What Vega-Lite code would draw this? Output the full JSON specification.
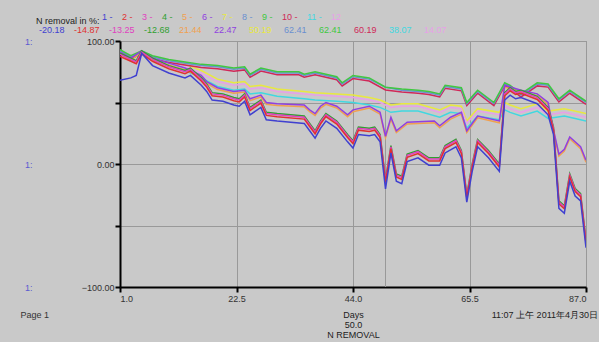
{
"$schema": "https://vega.github.io/schema/vega-lite/v6.json",
"width": 466, "height": 246,
"autosize": {"type": "none"},
"padding": {"left": 120, "top": 41, "right": 13, "bottom": 55},
"background": "#c9c9c9",
"title": {"text": "11:07 上午  2011年4月30日", "orient": "bottom", "anchor": "end", "frame": "group", "fontSize": 9, "fontWeight": "normal", "color": "#222", "offset": -28, "dx": 12},
"config": {"font": "Liberation Sans", "view": {"stroke": "#8c8c8c", "strokeWidth": 1}},
"encoding": {
  "x": {"field": "d", "type": "quantitative", "scale": {"domain": [1, 87], "nice": false, "zero": false},
    "axis": {"values": [1, 22.5, 44, 65.5, 87], "format": ".1f", "title": ["Days", "50.0", "N REMOVAL"], "grid": true, "gridColor": "#999", "gridWidth": 1,
      "domainColor": "#000", "domainWidth": 2, "tickColor": "#000", "tickWidth": 2, "tickSize": 5, "labelFontSize": 9, "labelColor": "#333", "labelPadding": 2,
      "titleFontSize": 9, "titleFontWeight": "normal", "titleColor": "#222", "titlePadding": 7, "titleLineHeight": 10}}
},
"layer": [
  {
    "data": {"values": [{"d": 50}]},
    "mark": {"type": "rule", "color": "#999", "strokeWidth": 1},
    "encoding": {
      "y": {"datum": -100, "type": "quantitative", "scale": {"domain": [-100, 100], "nice": false},
        "axis": {"orient": "left", "offset": 84, "values": [-100, 0, 100], "labelExpr": "'1:'", "domain": false, "ticks": false, "grid": false, "labelColor": "#5a5ad0", "labelFontSize": 9, "labelPadding": 4,
          "title": "Page 1", "titleAngle": 0, "titleAlign": "left", "titleBaseline": "middle", "titleX": -16, "titleY": 273, "titleFontSize": 9, "titleFontWeight": "normal", "titleColor": "#333"}},
      "y2": {"datum": 100}
    }
  },
  {
    "data": {"values": [
{"d":1,"s":7,"v":91},{"d":3,"s":7,"v":88},{"d":5,"s":7,"v":91},{"d":7,"s":7,"v":87},{"d":10,"s":7,"v":84},{"d":13,"s":7,"v":81},{"d":16,"s":7,"v":76},{"d":19,"s":7,"v":69},{"d":22,"s":7,"v":66},{"d":24,"s":7,"v":67},{"d":25,"s":7,"v":63},{"d":27,"s":7,"v":64},{"d":30,"s":7,"v":61},{"d":35,"s":7,"v":59},{"d":37,"s":7,"v":58},{"d":41,"s":7,"v":57},{"d":44,"s":7,"v":56},{"d":47,"s":7,"v":54},{"d":49,"s":7,"v":52},{"d":51,"s":7,"v":48},{"d":53,"s":7,"v":49},{"d":56,"s":7,"v":49},{"d":60,"s":7,"v":44},{"d":62,"s":7,"v":48},{"d":64,"s":7,"v":47},{"d":65,"s":7,"v":35},{"d":67,"s":7,"v":45},{"d":71,"s":7,"v":42},{"d":72,"s":7,"v":50},{"d":73,"s":7,"v":48},{"d":75,"s":7,"v":45},{"d":78,"s":7,"v":49},{"d":80,"s":7,"v":43},{"d":83,"s":7,"v":45},{"d":87,"s":7,"v":41},
{"d":1,"s":12,"v":92},{"d":3,"s":12,"v":88},{"d":5,"s":12,"v":92},{"d":7,"s":12,"v":87},{"d":10,"s":12,"v":84},{"d":13,"s":12,"v":80},{"d":16,"s":12,"v":74},{"d":19,"s":12,"v":67},{"d":22,"s":12,"v":64},{"d":24,"s":12,"v":65},{"d":25,"s":12,"v":61},{"d":27,"s":12,"v":62},{"d":30,"s":12,"v":59},{"d":35,"s":12,"v":57},{"d":37,"s":12,"v":56},{"d":41,"s":12,"v":55},{"d":44,"s":12,"v":54},{"d":47,"s":12,"v":52},{"d":49,"s":12,"v":50},{"d":51,"s":12,"v":46},{"d":53,"s":12,"v":47},{"d":56,"s":12,"v":47},{"d":60,"s":12,"v":42},{"d":62,"s":12,"v":46},{"d":64,"s":12,"v":45},{"d":65,"s":12,"v":33},{"d":67,"s":12,"v":43},{"d":71,"s":12,"v":40},{"d":72,"s":12,"v":47},{"d":73,"s":12,"v":45},{"d":75,"s":12,"v":42},{"d":78,"s":12,"v":46},{"d":80,"s":12,"v":40},{"d":83,"s":12,"v":42},{"d":87,"s":12,"v":38},
{"d":1,"s":11,"v":90},{"d":3,"s":11,"v":85},{"d":5,"s":11,"v":90},{"d":7,"s":11,"v":84},{"d":10,"s":11,"v":80},{"d":13,"s":11,"v":76},{"d":16,"s":11,"v":70},{"d":19,"s":11,"v":63},{"d":22,"s":11,"v":60},{"d":24,"s":11,"v":61},{"d":25,"s":11,"v":57},{"d":27,"s":11,"v":58},{"d":30,"s":11,"v":55},{"d":35,"s":11,"v":53},{"d":37,"s":11,"v":52},{"d":41,"s":11,"v":51},{"d":44,"s":11,"v":50},{"d":47,"s":11,"v":48},{"d":49,"s":11,"v":46},{"d":51,"s":11,"v":42},{"d":53,"s":11,"v":43},{"d":56,"s":11,"v":43},{"d":60,"s":11,"v":38},{"d":62,"s":11,"v":42},{"d":64,"s":11,"v":41},{"d":65,"s":11,"v":29},{"d":67,"s":11,"v":39},{"d":71,"s":11,"v":36},{"d":72,"s":11,"v":44},{"d":73,"s":11,"v":42},{"d":75,"s":11,"v":39},{"d":78,"s":11,"v":43},{"d":80,"s":11,"v":37},{"d":83,"s":11,"v":39},{"d":87,"s":11,"v":35},
{"d":1,"s":10,"v":90.5},{"d":3,"s":10,"v":85.5},{"d":5,"s":10,"v":89.5},{"d":7,"s":10,"v":85.5},{"d":10,"s":10,"v":82.5},{"d":13,"s":10,"v":80.5},{"d":16,"s":10,"v":78.5},{"d":19,"s":10,"v":77.5},{"d":22,"s":10,"v":75.5},{"d":24,"s":10,"v":76.5},{"d":25,"s":10,"v":70.5},{"d":27,"s":10,"v":75.5},{"d":30,"s":10,"v":72.5},{"d":34,"s":10,"v":72.5},{"d":35,"s":10,"v":70.5},{"d":37,"s":10,"v":72.5},{"d":41,"s":10,"v":68.5},{"d":42,"s":10,"v":63.5},{"d":44,"s":10,"v":69.5},{"d":47,"s":10,"v":67.5},{"d":50,"s":10,"v":60.2},{"d":53,"s":10,"v":58.5},{"d":56,"s":10,"v":57.5},{"d":58,"s":10,"v":56.5},{"d":60,"s":10,"v":54.5},{"d":61,"s":10,"v":61.5},{"d":64,"s":10,"v":59.5},{"d":65,"s":10,"v":47.5},{"d":67,"s":10,"v":57.5},{"d":70,"s":10,"v":47.5},{"d":72,"s":10,"v":63.5},{"d":73,"s":10,"v":61.5},{"d":75,"s":10,"v":54.5},{"d":78,"s":10,"v":63.5},{"d":80,"s":10,"v":62.5},{"d":82,"s":10,"v":50.5},{"d":84,"s":10,"v":57.5},{"d":87,"s":10,"v":48.5},
{"d":1,"s":8,"v":92},{"d":3,"s":8,"v":87},{"d":5,"s":8,"v":91},{"d":7,"s":8,"v":87},{"d":10,"s":8,"v":84},{"d":13,"s":8,"v":82},{"d":16,"s":8,"v":80},{"d":19,"s":8,"v":79},{"d":22,"s":8,"v":77},{"d":24,"s":8,"v":78},{"d":25,"s":8,"v":72},{"d":27,"s":8,"v":77},{"d":30,"s":8,"v":74},{"d":34,"s":8,"v":74},{"d":35,"s":8,"v":72},{"d":37,"s":8,"v":74},{"d":41,"s":8,"v":70},{"d":42,"s":8,"v":65},{"d":44,"s":8,"v":71},{"d":47,"s":8,"v":69},{"d":50,"s":8,"v":62.4},{"d":53,"s":8,"v":60},{"d":56,"s":8,"v":59},{"d":58,"s":8,"v":58},{"d":60,"s":8,"v":56},{"d":61,"s":8,"v":63},{"d":64,"s":8,"v":61},{"d":65,"s":8,"v":49},{"d":67,"s":8,"v":59},{"d":70,"s":8,"v":49},{"d":72,"s":8,"v":65},{"d":73,"s":8,"v":63},{"d":75,"s":8,"v":56},{"d":78,"s":8,"v":65},{"d":80,"s":8,"v":64},{"d":82,"s":8,"v":52},{"d":84,"s":8,"v":59},{"d":87,"s":8,"v":50},
{"d":1,"s":9,"v":93},{"d":3,"s":9,"v":88},{"d":5,"s":9,"v":92},{"d":7,"s":9,"v":88},{"d":10,"s":9,"v":85},{"d":13,"s":9,"v":83},{"d":16,"s":9,"v":81},{"d":19,"s":9,"v":80},{"d":22,"s":9,"v":78},{"d":24,"s":9,"v":79},{"d":25,"s":9,"v":73},{"d":27,"s":9,"v":78},{"d":30,"s":9,"v":75},{"d":34,"s":9,"v":75},{"d":35,"s":9,"v":73},{"d":37,"s":9,"v":75},{"d":41,"s":9,"v":71},{"d":42,"s":9,"v":66},{"d":44,"s":9,"v":72},{"d":47,"s":9,"v":70},{"d":50,"s":9,"v":62.4},{"d":53,"s":9,"v":61},{"d":56,"s":9,"v":60},{"d":58,"s":9,"v":59},{"d":60,"s":9,"v":57},{"d":61,"s":9,"v":64},{"d":64,"s":9,"v":62},{"d":65,"s":9,"v":50},{"d":67,"s":9,"v":60},{"d":70,"s":9,"v":50},{"d":72,"s":9,"v":66},{"d":73,"s":9,"v":64},{"d":75,"s":9,"v":57},{"d":78,"s":9,"v":66},{"d":80,"s":9,"v":65},{"d":82,"s":9,"v":53},{"d":84,"s":9,"v":60},{"d":87,"s":9,"v":51},
{"d":1,"s":5,"v":89.5},{"d":3,"s":5,"v":84.5},{"d":5,"s":5,"v":90.5},{"d":7,"s":5,"v":84.5},{"d":10,"s":5,"v":80.5},{"d":13,"s":5,"v":76.5},{"d":16,"s":5,"v":70.5},{"d":17,"s":5,"v":65.5},{"d":19,"s":5,"v":60.5},{"d":22,"s":5,"v":57.5},{"d":24,"s":5,"v":58.5},{"d":25,"s":5,"v":51.5},{"d":27,"s":5,"v":54.5},{"d":28,"s":5,"v":48.5},{"d":30,"s":5,"v":47.5},{"d":35,"s":5,"v":46.5},{"d":36,"s":5,"v":42.5},{"d":37,"s":5,"v":39.5},{"d":38,"s":5,"v":45.5},{"d":39,"s":5,"v":48.5},{"d":41,"s":5,"v":45.5},{"d":43,"s":5,"v":38.5},{"d":44,"s":5,"v":42.5},{"d":47,"s":5,"v":45.5},{"d":49,"s":5,"v":40.5},{"d":50,"s":5,"v":21.4},{"d":51,"s":5,"v":36.5},{"d":52,"s":5,"v":25.5},{"d":54,"s":5,"v":32.5},{"d":59,"s":5,"v":33.5},{"d":60,"s":5,"v":29.5},{"d":62,"s":5,"v":36.5},{"d":64,"s":5,"v":40.5},{"d":65,"s":5,"v":25.5},{"d":67,"s":5,"v":37.5},{"d":71,"s":5,"v":33.5},{"d":72,"s":5,"v":62.5},{"d":75,"s":5,"v":58.5},{"d":78,"s":5,"v":55.5},{"d":80,"s":5,"v":48.5},{"d":81,"s":5,"v":26.5},{"d":82,"s":5,"v":6.5},{"d":83,"s":5,"v":10.5},{"d":84,"s":5,"v":20.5},{"d":86,"s":5,"v":12.5},{"d":87,"s":5,"v":1.5},
{"d":1,"s":6,"v":91},{"d":3,"s":6,"v":86},{"d":5,"s":6,"v":92},{"d":7,"s":6,"v":86},{"d":10,"s":6,"v":82},{"d":13,"s":6,"v":78},{"d":16,"s":6,"v":72},{"d":17,"s":6,"v":67},{"d":19,"s":6,"v":62},{"d":22,"s":6,"v":59},{"d":24,"s":6,"v":60},{"d":25,"s":6,"v":53},{"d":27,"s":6,"v":56},{"d":28,"s":6,"v":50},{"d":30,"s":6,"v":49},{"d":35,"s":6,"v":48},{"d":36,"s":6,"v":44},{"d":37,"s":6,"v":41},{"d":38,"s":6,"v":47},{"d":39,"s":6,"v":50},{"d":41,"s":6,"v":47},{"d":43,"s":6,"v":40},{"d":44,"s":6,"v":44},{"d":47,"s":6,"v":47},{"d":49,"s":6,"v":42},{"d":50,"s":6,"v":22.5},{"d":51,"s":6,"v":38},{"d":52,"s":6,"v":27},{"d":54,"s":6,"v":34},{"d":59,"s":6,"v":35},{"d":60,"s":6,"v":31},{"d":62,"s":6,"v":38},{"d":64,"s":6,"v":42},{"d":65,"s":6,"v":27},{"d":67,"s":6,"v":39},{"d":71,"s":6,"v":35},{"d":72,"s":6,"v":64},{"d":75,"s":6,"v":60},{"d":78,"s":6,"v":57},{"d":80,"s":6,"v":50},{"d":81,"s":6,"v":28},{"d":82,"s":6,"v":8},{"d":83,"s":6,"v":12},{"d":84,"s":6,"v":22},{"d":86,"s":6,"v":14},{"d":87,"s":6,"v":3},
{"d":1,"s":4,"v":90},{"d":3,"s":4,"v":86},{"d":4,"s":4,"v":84},{"d":5,"s":4,"v":92},{"d":7,"s":4,"v":86},{"d":10,"s":4,"v":80},{"d":13,"s":4,"v":76},{"d":14,"s":4,"v":78},{"d":16,"s":4,"v":70},{"d":17,"s":4,"v":65},{"d":18,"s":4,"v":58},{"d":20,"s":4,"v":57},{"d":22,"s":4,"v":54},{"d":23,"s":4,"v":53},{"d":24,"s":4,"v":57},{"d":25,"s":4,"v":46},{"d":27,"s":4,"v":52},{"d":28,"s":4,"v":42},{"d":30,"s":4,"v":41},{"d":35,"s":4,"v":39},{"d":36,"s":4,"v":33},{"d":37,"s":4,"v":27},{"d":38,"s":4,"v":35},{"d":39,"s":4,"v":41},{"d":41,"s":4,"v":35},{"d":43,"s":4,"v":24},{"d":44,"s":4,"v":19},{"d":45,"s":4,"v":30},{"d":47,"s":4,"v":29},{"d":48,"s":4,"v":30},{"d":49,"s":4,"v":24},{"d":50,"s":4,"v":-12.68},{"d":51,"s":4,"v":15},{"d":52,"s":4,"v":-8},{"d":53,"s":4,"v":-10},{"d":54,"s":4,"v":8},{"d":56,"s":4,"v":11},{"d":58,"s":4,"v":5},{"d":60,"s":4,"v":5},{"d":61,"s":4,"v":15},{"d":63,"s":4,"v":20},{"d":64,"s":4,"v":11},{"d":65,"s":4,"v":-25},{"d":66,"s":4,"v":0},{"d":67,"s":4,"v":20},{"d":69,"s":4,"v":11},{"d":71,"s":4,"v":0},{"d":72,"s":4,"v":58},{"d":73,"s":4,"v":62},{"d":74,"s":4,"v":59},{"d":75,"s":4,"v":60},{"d":78,"s":4,"v":55},{"d":80,"s":4,"v":46},{"d":81,"s":4,"v":30},{"d":82,"s":4,"v":-30},{"d":83,"s":4,"v":-34},{"d":84,"s":4,"v":-8},{"d":85,"s":4,"v":-20},{"d":86,"s":4,"v":-24},{"d":87,"s":4,"v":-62},
{"d":1,"s":3,"v":89},{"d":3,"s":3,"v":85},{"d":4,"s":3,"v":83},{"d":5,"s":3,"v":91},{"d":7,"s":3,"v":85},{"d":10,"s":3,"v":79},{"d":13,"s":3,"v":75},{"d":14,"s":3,"v":77},{"d":16,"s":3,"v":69},{"d":17,"s":3,"v":64},{"d":18,"s":3,"v":57},{"d":20,"s":3,"v":56},{"d":22,"s":3,"v":53},{"d":23,"s":3,"v":52},{"d":24,"s":3,"v":56},{"d":25,"s":3,"v":45},{"d":27,"s":3,"v":51},{"d":28,"s":3,"v":41},{"d":30,"s":3,"v":40},{"d":35,"s":3,"v":38},{"d":36,"s":3,"v":32},{"d":37,"s":3,"v":26},{"d":38,"s":3,"v":34},{"d":39,"s":3,"v":40},{"d":41,"s":3,"v":34},{"d":43,"s":3,"v":23},{"d":44,"s":3,"v":18},{"d":45,"s":3,"v":29},{"d":47,"s":3,"v":28},{"d":48,"s":3,"v":29},{"d":49,"s":3,"v":23},{"d":50,"s":3,"v":-13.25},{"d":51,"s":3,"v":14},{"d":52,"s":3,"v":-9},{"d":53,"s":3,"v":-11},{"d":54,"s":3,"v":7},{"d":56,"s":3,"v":10},{"d":58,"s":3,"v":4},{"d":60,"s":3,"v":4},{"d":61,"s":3,"v":14},{"d":63,"s":3,"v":19},{"d":64,"s":3,"v":10},{"d":65,"s":3,"v":-26},{"d":66,"s":3,"v":-1},{"d":67,"s":3,"v":19},{"d":69,"s":3,"v":10},{"d":71,"s":3,"v":-1},{"d":72,"s":3,"v":57},{"d":73,"s":3,"v":61},{"d":74,"s":3,"v":58},{"d":75,"s":3,"v":59},{"d":78,"s":3,"v":54},{"d":80,"s":3,"v":45},{"d":81,"s":3,"v":29},{"d":82,"s":3,"v":-31},{"d":83,"s":3,"v":-35},{"d":84,"s":3,"v":-9},{"d":85,"s":3,"v":-21},{"d":86,"s":3,"v":-25},{"d":87,"s":3,"v":-63},
{"d":1,"s":2,"v":87.5},{"d":3,"s":2,"v":83.5},{"d":4,"s":2,"v":81.5},{"d":5,"s":2,"v":89.5},{"d":7,"s":2,"v":83.5},{"d":10,"s":2,"v":77.5},{"d":13,"s":2,"v":73.5},{"d":14,"s":2,"v":75.5},{"d":16,"s":2,"v":67.5},{"d":17,"s":2,"v":62.5},{"d":18,"s":2,"v":55.5},{"d":20,"s":2,"v":54.5},{"d":22,"s":2,"v":51.5},{"d":23,"s":2,"v":50.5},{"d":24,"s":2,"v":54.5},{"d":25,"s":2,"v":43.5},{"d":27,"s":2,"v":49.5},{"d":28,"s":2,"v":39.5},{"d":30,"s":2,"v":38.5},{"d":35,"s":2,"v":36.5},{"d":36,"s":2,"v":30.5},{"d":37,"s":2,"v":24.5},{"d":38,"s":2,"v":32.5},{"d":39,"s":2,"v":38.5},{"d":41,"s":2,"v":32.5},{"d":43,"s":2,"v":21.5},{"d":44,"s":2,"v":16.5},{"d":45,"s":2,"v":27.5},{"d":47,"s":2,"v":26.5},{"d":48,"s":2,"v":27.5},{"d":49,"s":2,"v":21.5},{"d":50,"s":2,"v":-14.87},{"d":51,"s":2,"v":12.5},{"d":52,"s":2,"v":-10.5},{"d":53,"s":2,"v":-12.5},{"d":54,"s":2,"v":5.5},{"d":56,"s":2,"v":8.5},{"d":58,"s":2,"v":2.5},{"d":60,"s":2,"v":2.5},{"d":61,"s":2,"v":12.5},{"d":63,"s":2,"v":17.5},{"d":64,"s":2,"v":8.5},{"d":65,"s":2,"v":-27.5},{"d":66,"s":2,"v":-2.5},{"d":67,"s":2,"v":17.5},{"d":69,"s":2,"v":8.5},{"d":71,"s":2,"v":-2.5},{"d":72,"s":2,"v":55.5},{"d":73,"s":2,"v":59.5},{"d":74,"s":2,"v":56.5},{"d":75,"s":2,"v":57.5},{"d":78,"s":2,"v":52.5},{"d":80,"s":2,"v":43.5},{"d":81,"s":2,"v":27.5},{"d":82,"s":2,"v":-32.5},{"d":83,"s":2,"v":-36.5},{"d":84,"s":2,"v":-10.5},{"d":85,"s":2,"v":-22.5},{"d":86,"s":2,"v":-26.5},{"d":87,"s":2,"v":-64.5},
{"d":1,"s":1,"v":68},{"d":3,"s":1,"v":70},{"d":4,"s":1,"v":72},{"d":5,"s":1,"v":90},{"d":7,"s":1,"v":80},{"d":10,"s":1,"v":74},{"d":13,"s":1,"v":70},{"d":14,"s":1,"v":72},{"d":16,"s":1,"v":64},{"d":17,"s":1,"v":59},{"d":18,"s":1,"v":52},{"d":20,"s":1,"v":51},{"d":22,"s":1,"v":48},{"d":23,"s":1,"v":47},{"d":24,"s":1,"v":51},{"d":25,"s":1,"v":40},{"d":27,"s":1,"v":46},{"d":28,"s":1,"v":36},{"d":30,"s":1,"v":35},{"d":35,"s":1,"v":33},{"d":36,"s":1,"v":27},{"d":37,"s":1,"v":21},{"d":38,"s":1,"v":29},{"d":39,"s":1,"v":35},{"d":41,"s":1,"v":29},{"d":43,"s":1,"v":18},{"d":44,"s":1,"v":13},{"d":45,"s":1,"v":24},{"d":47,"s":1,"v":23},{"d":48,"s":1,"v":24},{"d":49,"s":1,"v":18},{"d":50,"s":1,"v":-20.18},{"d":51,"s":1,"v":9},{"d":52,"s":1,"v":-14},{"d":53,"s":1,"v":-16},{"d":54,"s":1,"v":2},{"d":56,"s":1,"v":5},{"d":58,"s":1,"v":-1},{"d":60,"s":1,"v":-1},{"d":61,"s":1,"v":9},{"d":63,"s":1,"v":14},{"d":64,"s":1,"v":5},{"d":65,"s":1,"v":-31},{"d":66,"s":1,"v":-6},{"d":67,"s":1,"v":14},{"d":69,"s":1,"v":5},{"d":71,"s":1,"v":-6},{"d":72,"s":1,"v":52},{"d":73,"s":1,"v":56},{"d":74,"s":1,"v":53},{"d":75,"s":1,"v":54},{"d":78,"s":1,"v":49},{"d":80,"s":1,"v":40},{"d":81,"s":1,"v":24},{"d":82,"s":1,"v":-36},{"d":83,"s":1,"v":-40},{"d":84,"s":1,"v":-14},{"d":85,"s":1,"v":-26},{"d":86,"s":1,"v":-30},{"d":87,"s":1,"v":-68}
    ]},
    "mark": {"type": "line", "strokeWidth": 1.5, "clip": true},
    "encoding": {
      "y": {"field": "v", "type": "quantitative", "scale": {"domain": [-100, 100], "nice": false},
        "axis": {"orient": "left", "values": [-100, -50, 0, 50, 100], "labelExpr": "datum.value % 100 == 0 ? format(datum.value, '.2f') : ''", "title": null, "grid": true, "gridColor": "#999", "gridWidth": 1,
          "domainColor": "#000", "domainWidth": 2, "tickColor": "#000", "tickWidth": 2, "tickSize": 5, "labelFontSize": 9, "labelColor": "#333", "labelPadding": 1}},
      "color": {"field": "s", "type": "ordinal",
        "scale": {"domain": [1,2,3,4,5,6,7,8,9,10,11,12], "range": ["#4040d0","#e03030","#e040c0","#30a030","#f0a050","#9040e0","#e8e840","#6a8fd0","#40c840","#d02858","#40d8e0","#e8a0e8"]},
        "legend": {"orient": "none", "legendX": -84, "legendY": -29, "direction": "horizontal", "columns": 12, "title": "N removal in %:", "titleOrient": "left", "titleBaseline": "top", "titleFontSize": 9, "titleFontWeight": "normal", "titleColor": "#222", "titlePadding": -7,
          "labelFontSize": 9, "labelExpr": "datum.value == 12 ? '12' : datum.label + ' -'", "symbolSize": 0, "symbolStrokeWidth": 0, "symbolOpacity": 0, "labelOffset": 0, "columnPadding": -6, "rowPadding": 0, "padding": 0,
          "encode": {"labels": {"update": {"fill": {"scale": "color", "field": "value"}}}}}},
      "strokeWidth": {"field": "s", "type": "ordinal", "scale": {"range": [1.5, 1.5]},
        "legend": {"orient": "none", "legendX": -90, "legendY": -16, "direction": "horizontal", "columns": 12, "title": null,
          "labelFontSize": 9, "labelExpr": "['-20.18','-14.87','-13.25','-12.68','21.44','22.47','50.19','62.41','62.41','60.19','38.07','14.07'][datum.value - 1]",
          "symbolSize": 0, "symbolStrokeWidth": 0, "symbolOpacity": 0, "labelOffset": 0, "columnPadding": -1.5, "gridAlign": "all", "padding": 0,
          "encode": {"labels": {"update": {"fill": {"scale": "color", "field": "value"}}}}}}
    }
  }
],
"resolve": {"scale": {"y": "independent"}, "axis": {"y": "independent"}}
}
